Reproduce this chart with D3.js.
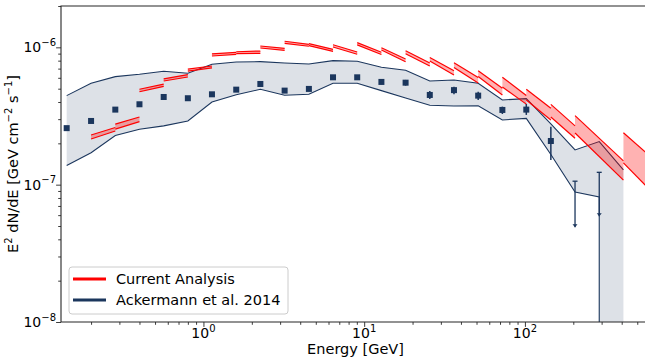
<!DOCTYPE html>
<html>
<head>
<meta charset="utf-8">
<script src="https://cdn.jsdelivr.net/npm/d3@7"></script>
<style>
  body { margin: 0; background: #fff; }
  svg { display: block; }
  text { font-family: "DejaVu Sans", sans-serif; fill: #000; }
</style>
</head>
<body>
<svg id="chart" width="645" height="360"></svg>
<script>
// ---- Ackermann et al. 2014: bin centres (GeV) and spectrum ----
const energies = [0.141, 0.2, 0.283, 0.4, 0.566, 0.8, 1.13, 1.6, 2.26, 3.2, 4.53, 6.4,
                  9.05, 12.8, 18.1, 25.6, 36.2, 51.2, 72.4, 102, 145, 205, 290, 410];

// measured points (first 21 bins), E^2 dN/dE in GeV cm^-2 s^-1
const fluxPoints = [2.58e-7, 2.91e-7, 3.52e-7, 3.85e-7, 4.35e-7, 4.26e-7, 4.55e-7, 4.92e-7,
                    5.41e-7, 4.84e-7, 4.98e-7, 6.05e-7, 6.05e-7, 5.60e-7, 5.53e-7, 4.50e-7,
                    4.88e-7, 4.45e-7, 3.50e-7, 3.52e-7, 2.08e-7];
const fluxLow  = [2.50e-7, 2.83e-7, 3.43e-7, 3.76e-7, 4.25e-7, 4.16e-7, 4.45e-7, 4.81e-7,
                  5.29e-7, 4.72e-7, 4.85e-7, 5.90e-7, 5.88e-7, 5.38e-7, 5.26e-7, 4.21e-7,
                  4.55e-7, 4.14e-7, 3.27e-7, 3.22e-7, 1.51e-7];
const fluxHigh = [2.66e-7, 2.99e-7, 3.61e-7, 3.94e-7, 4.45e-7, 4.36e-7, 4.65e-7, 5.03e-7,
                  5.53e-7, 4.96e-7, 5.11e-7, 6.20e-7, 6.22e-7, 5.79e-7, 5.79e-7, 4.81e-7,
                  5.17e-7, 4.75e-7, 3.70e-7, 3.87e-7, 2.64e-7];

// upper limits in the two highest bins
const ulEnergies = [205, 290];
const ulValues   = [1.06e-7, 1.23e-7];
const ulArrowTo  = [4.9e-8, 5.9e-8];

// systematic band (upper / lower edge per bin; 0 = no lower bound)
const bandUpper = [4.45e-7, 5.47e-7, 6.12e-7, 6.37e-7, 6.70e-7, 6.48e-7, 7.53e-7, 7.83e-7,
                   7.87e-7, 7.70e-7, 7.57e-7, 8.00e-7, 7.92e-7, 7.16e-7, 6.81e-7, 5.69e-7,
                   5.79e-7, 5.47e-7, 4.14e-7, 4.23e-7, 2.77e-7, 1.79e-7, 2.06e-7, 1.28e-7];
const bandLower = [1.38e-7, 1.71e-7, 2.28e-7, 2.53e-7, 2.68e-7, 2.91e-7, 4.00e-7, 4.52e-7,
                   4.95e-7, 4.48e-7, 4.55e-7, 5.47e-7, 5.47e-7, 4.84e-7, 4.28e-7, 3.79e-7,
                   3.74e-7, 3.76e-7, 2.96e-7, 3.04e-7, 1.66e-7, 8.85e-8, 8.14e-8, 0];

// ---- Current analysis: bin-by-bin power-law fits (bin edges in GeV) ----
const binLo = [0.2, 0.283, 0.4, 0.566, 0.8, 1.13, 1.6, 2.26, 3.2, 4.53, 6.4, 9.05,
               12.8, 18.1, 25.6, 36.2, 51.2, 72.4, 102, 145, 205, 410];
const binHi = [0.283, 0.4, 0.566, 0.8, 1.13, 1.6, 2.26, 3.2, 4.53, 6.4, 9.05, 12.8,
               18.1, 25.6, 36.2, 51.2, 72.4, 102, 145, 205, 410, 820];
// upper edge of the fit envelope at the low / high end of each bin
const fitHiStart = [2.30e-7, 2.76e-7, 4.95e-7, 5.90e-7, 6.93e-7, 8.95e-7, 9.29e-7, 1.023e-6,
                    1.108e-6, 1.063e-6, 1.045e-6, 1.082e-6, 9.94e-7, 9.45e-7, 8.43e-7, 7.73e-7,
                    6.76e-7, 6.05e-7, 4.95e-7, 3.84e-7, 3.18e-7, 2.39e-7];
const fitHiEnd   = [2.61e-7, 3.11e-7, 5.39e-7, 6.33e-7, 7.31e-7, 9.20e-7, 9.40e-7, 9.84e-7,
                    1.052e-6, 9.67e-7, 9.25e-7, 9.20e-7, 8.22e-7, 7.69e-7, 6.76e-7, 6.03e-7,
                    5.03e-7, 4.46e-7, 3.60e-7, 2.68e-7, 1.49e-7, 1.17e-7];
// lower edge of the fit envelope at the low / high end of each bin
const fitLoStart = [2.15e-7, 2.54e-7, 4.75e-7, 5.69e-7, 6.71e-7, 8.65e-7, 8.99e-7, 9.89e-7,
                    1.070e-6, 1.028e-6, 1.006e-6, 1.043e-6, 9.56e-7, 8.99e-7, 7.95e-7, 7.13e-7,
                    6.13e-7, 5.14e-7, 4.13e-7, 3.11e-7, 2.38e-7, 1.44e-7];
const fitLoEnd   = [2.46e-7, 2.88e-7, 5.19e-7, 6.08e-7, 7.09e-7, 8.90e-7, 9.05e-7, 9.51e-7,
                    1.018e-6, 9.35e-7, 8.90e-7, 8.87e-7, 7.86e-7, 7.31e-7, 6.29e-7, 5.50e-7,
                    4.50e-7, 3.86e-7, 2.96e-7, 2.18e-7, 1.08e-7, 6.3e-8];

// ---- axes ----
const xDomain = [0.13, 600];
const yDomain = [1e-8, 2e-6];
const xMajor = [1, 10, 100];
const yMajor = [1e-8, 1e-7, 1e-6];
const legendLabels = ["Current Analysis", "Ackermann et al. 2014"];

const navy = "#1b365d";
const bandFill = "#dde1e7";
const red = "#ff0000";

const svg = d3.select("#chart");
const plot = { left: 61, right: 650, top: 6, bottom: 322 };

const x = d3.scaleLog().domain(xDomain).range([plot.left, plot.right]);
const y = d3.scaleLog().domain(yDomain).range([plot.bottom, plot.top]);

svg.append("defs").append("clipPath").attr("id", "plotClip")
  .append("rect")
  .attr("x", plot.left).attr("y", plot.top)
  .attr("width", plot.right - plot.left).attr("height", plot.bottom - plot.top);

const g = svg.append("g").attr("clip-path", "url(#plotClip)");
const line = d3.line();

// systematic band
const floorY = plot.bottom + 30;
const upperPts = energies.map((e, i) => [x(e), y(bandUpper[i])]);
const lowerPts = [];
energies.forEach((e, i) => {
  if (bandLower[i] > 0) {
    lowerPts.push([x(e), y(bandLower[i])]);
  } else {
    lowerPts.push([x(energies[i - 1]), floorY]);
    lowerPts.push([x(e), floorY]);
  }
});
g.append("path")
  .attr("d", line(upperPts.concat(lowerPts.slice().reverse())) + "Z")
  .attr("fill", bandFill);
g.append("path").attr("d", line(upperPts))
  .attr("fill", "none").attr("stroke", navy).attr("stroke-width", 1.1);
g.append("path").attr("d", line(lowerPts))
  .attr("fill", "none").attr("stroke", navy).attr("stroke-width", 1.1);

// error bars
g.selectAll(".err").data(fluxPoints).join("line")
  .attr("x1", (d, i) => x(energies[i])).attr("x2", (d, i) => x(energies[i]))
  .attr("y1", (d, i) => y(fluxLow[i])).attr("y2", (d, i) => y(fluxHigh[i]))
  .attr("stroke", navy).attr("stroke-width", 1.5);

// points
g.selectAll(".pt").data(fluxPoints).join("rect")
  .attr("x", (d, i) => x(energies[i]) - 3).attr("y", d => y(d) - 3)
  .attr("width", 6).attr("height", 6)
  .attr("fill", navy);

// upper limits
ulEnergies.forEach((e, i) => {
  const cx = x(e), y0 = y(ulValues[i]), y1 = y(ulArrowTo[i]);
  g.append("line").attr("x1", cx).attr("x2", cx).attr("y1", y0).attr("y2", y1)
    .attr("stroke", navy).attr("stroke-width", 1.3);
  g.append("line").attr("x1", cx - 2.5).attr("x2", cx + 2.5).attr("y1", y0).attr("y2", y0)
    .attr("stroke", navy).attr("stroke-width", 1.3);
  g.append("path")
    .attr("d", `M${cx - 2.5},${y1 - 3}L${cx + 2.5},${y1 - 3}L${cx},${y1}Z`)
    .attr("fill", navy);
});

// current analysis envelopes
binLo.forEach((lo, i) => {
  const hi = binHi[i];
  const top = [[x(lo), y(fitHiStart[i])], [x(hi), y(fitHiEnd[i])]];
  const bot = [[x(lo), y(fitLoStart[i])], [x(hi), y(fitLoEnd[i])]];
  g.append("path")
    .attr("d", line(top.concat(bot.slice().reverse())) + "Z")
    .attr("fill", red).attr("fill-opacity", 0.3);
  g.append("path").attr("d", line(top))
    .attr("fill", "none").attr("stroke", red).attr("stroke-width", 1.2);
  g.append("path").attr("d", line(bot))
    .attr("fill", "none").attr("stroke", red).attr("stroke-width", 1.2);
});

// ---- axes, ticks, labels ----
function minorTicks(domain) {
  const out = [];
  const k0 = Math.floor(Math.log10(domain[0])), k1 = Math.ceil(Math.log10(domain[1]));
  for (let k = k0; k <= k1; k++) {
    for (let m = 2; m <= 9; m++) {
      const v = m * Math.pow(10, k);
      if (v >= domain[0] && v <= domain[1]) out.push(v);
    }
  }
  return out;
}

const axisColor = "#262626";

const xAxisG = svg.append("g").attr("transform", `translate(0,${plot.bottom})`);
xAxisG.append("g").call(d3.axisBottom(x).tickValues(xMajor).tickSize(4.9).tickFormat(""));
xAxisG.append("g").call(d3.axisBottom(x).tickValues(minorTicks(xDomain)).tickSize(2.8).tickFormat(""));
const yAxisG = svg.append("g").attr("transform", `translate(${plot.left},0)`);
yAxisG.append("g").call(d3.axisLeft(y).tickValues(yMajor).tickSize(4.9).tickFormat(""));
yAxisG.append("g").call(d3.axisLeft(y).tickValues(minorTicks(yDomain)).tickSize(2.8).tickFormat(""));
svg.selectAll(".domain").remove();
svg.selectAll(".tick line").attr("stroke", axisColor).attr("stroke-width", 0.9);

// spines (left, bottom, top)
svg.append("path")
  .attr("d", `M${plot.right},${plot.top}H${plot.left}V${plot.bottom}H${plot.right}`)
  .attr("fill", "none").attr("stroke", axisColor).attr("stroke-width", 1.1);

function powerLabel(sel, exp) {
  sel.append("tspan").text("10");
  sel.append("tspan").attr("dy", -6.5).attr("font-size", 10)
    .text(exp < 0 ? "\u2212" + (-exp) : String(exp));
}

xMajor.forEach(v => {
  const t = svg.append("text").attr("x", x(v)).attr("y", plot.bottom + 16)
    .attr("text-anchor", "middle").attr("font-size", 14);
  powerLabel(t, Math.round(Math.log10(v)));
});
yMajor.forEach(v => {
  const t = svg.append("text").attr("x", plot.left - 5).attr("y", y(v) + 5)
    .attr("text-anchor", "end").attr("font-size", 14);
  powerLabel(t, Math.round(Math.log10(v)));
});

svg.append("text")
  .attr("x", (plot.left + plot.right) / 2).attr("y", 354)
  .attr("text-anchor", "middle").attr("font-size", 14.5)
  .text("Energy [GeV]");

const yl = svg.append("text")
  .attr("transform", `translate(18,${(plot.top + plot.bottom) / 2}) rotate(-90)`)
  .attr("text-anchor", "middle").attr("font-size", 14.5);
yl.append("tspan").text("E");
yl.append("tspan").attr("dy", -6).attr("font-size", 10).text("2");
yl.append("tspan").attr("dy", 6).text(" dN/dE [GeV cm");
yl.append("tspan").attr("dy", -6).attr("font-size", 10).text("\u22122");
yl.append("tspan").attr("dy", 6).text(" s");
yl.append("tspan").attr("dy", -6).attr("font-size", 10).text("\u22121");
yl.append("tspan").attr("dy", 6).text("]");

// legend
const lg = svg.append("g");
lg.append("rect")
  .attr("x", 69).attr("y", 267).attr("width", 219).attr("height", 47)
  .attr("rx", 3).attr("fill", "#fff").attr("fill-opacity", 0.8)
  .attr("stroke", "#cccccc").attr("stroke-width", 1);
[red, navy].forEach((c, i) => {
  const ly = 279 + i * 21;
  lg.append("line").attr("x1", 73).attr("x2", 106).attr("y1", ly).attr("y2", ly)
    .attr("stroke", c).attr("stroke-width", 3);
  lg.append("text").attr("x", 116).attr("y", ly + 5.3)
    .attr("font-size", 14.5).text(legendLabels[i]);
});
</script>
</body>
</html>
